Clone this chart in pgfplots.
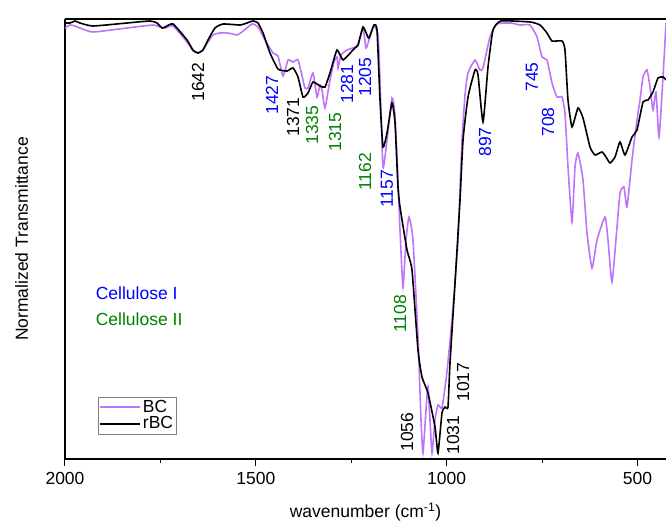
\documentclass[border=0pt]{standalone}
\usepackage{pgfplots}
\pgfplotsset{compat=1.18}
\usepackage{fontspec}
\setmainfont{Liberation Sans}
\definecolor{bcviolet}{RGB}{190,115,250}
\definecolor{cellI}{RGB}{0,0,255}
\definecolor{cellII}{RGB}{0,128,0}

\begin{document}
\fontsize{17.5}{20}\selectfont
\begin{tikzpicture}
\begin{axis}[
    scale only axis,
    width=601pt, height=440pt,
    x dir=reverse,
    xmin=425.1, xmax=2000,
    ymin=0, ymax=440,
    axis lines*=left,
    axis line style={line width=1.1pt},
    xtick={2000,1500,1000,500},
    minor xtick={1750,1250,750},
    ytick=\empty,
    tick align=outside,
    major tick length=7pt,
    minor tick length=4pt,
    every tick/.style={black, line width=1pt},
    /pgf/number format/assume math mode=true,
    /pgf/number format/set thousands separator={},
    xticklabel style={font=\fontsize{17.5}{20}\selectfont},
    xlabel={wavenumber (cm\textsuperscript{-1})},
    xlabel style={at={(axis description cs:0.5,-0.1205)}, anchor=center},
    ylabel={Normalized Transmittance},
    ylabel style={at={(axis description cs:-0.072,0.5)}, anchor=center},
    legend style={at={(rel axis cs:0.055,0.055)}, anchor=south west,
        draw=gray, line width=0.6pt, inner sep=1pt, row sep=-2pt,
        font=\fontsize{17.5}{20}\selectfont},
    legend cell align={left},
    legend image code/.code={\draw[#1] (0pt,0pt) -- (40pt,0pt);},
    every axis plot/.append style={smooth, tension=0.3, line width=1.6pt},
]
% BC
\addplot[bcviolet] coordinates {
(2000,431) (1986.9,434) (1973.8,433) (1960.7,431) (1926.6,427) (1837.5,431)
(1769.4,434) (1751.0,432) (1737.9,431) (1716.9,433) (1680.3,417) (1664.6,408)
(1651.5,406) (1638.4,409) (1625.3,417) (1612.2,424) (1593.8,426) (1575.5,426)
(1559.8,425) (1549.3,424) (1536.2,427) (1509.9,435) (1494.2,432) (1475.9,419)
(1454.9,406) (1441.8,403) (1428.7,383) (1415.5,399) (1402.5,397) (1389.4,399)
(1376.3,379) (1371.1,371) (1363.2,371) (1350.1,386) (1339.6,362) (1331.8,374)
(1326.5,369) (1318.7,351) (1305.6,379) (1295.1,397) (1287.2,402) (1284.6,391)
(1276.7,404) (1261.0,409) (1245.3,411) (1232.2,414) (1219.1,431) (1211.3,411)
(1203.4,419) (1190.3,433) (1179.8,424) (1174.5,379) (1166.7,292) (1156.2,319)
(1143.1,361) (1135.2,344) (1127.4,279) (1122.1,229) (1114.3,172) (1106.4,219)
(1098.5,242) (1088.1,219) (1075.0,122) (1067.1,39) (1061.9,6) (1054.0,49)
(1048.8,72) (1043.5,39) (1038.3,6) (1030.4,39) (1022.6,54) (1012.1,51)
(1001.6,79) (996.4,97) (985.9,139) (978.0,176) (970.1,219) (964.9,269)
(959.6,319) (951.8,364) (943.9,386) (925.6,399) (912.5,389) (904.6,391)
(886.3,422) (867.9,435) (831.2,436) (807.7,434) (781.5,434) (763.1,422)
(750.0,402) (736.9,399) (723.8,376) (710.7,362) (697.6,362) (689.8,346)
(681.9,292) (671.4,237) (663.6,292) (655.7,306) (642.6,279) (632.1,226)
(619.0,191) (605.9,219) (584.9,242) (577.1,219) (566.6,177) (553.5,232)
(545.6,266) (535.1,272) (527.3,252) (514.2,299) (501.1,339) (493.2,359)
(485.3,382) (474.9,389) (467.0,372) (459.2,349) (451.3,367) (443.4,322)
(432.9,382) (425.1,436)
};
\addlegendentry{BC}
% rBC
\addplot[black] coordinates {
(2000,436) (1986.9,436) (1973.8,438) (1960.7,436) (1926.6,433) (1837.5,436)
(1777.3,438) (1758.9,436) (1745.8,431) (1737.9,432) (1716.9,435) (1680.3,419)
(1664.6,409) (1651.5,406) (1638.4,409) (1625.3,419) (1607.0,431) (1585.8,435)
(1541.4,434) (1523.1,436) (1507.3,438) (1494.2,436) (1481.1,426) (1462.8,406)
(1441.8,390) (1418.2,388) (1402.5,391) (1389.4,382) (1376.3,362) (1363.2,366)
(1350.1,377) (1331.8,373) (1318.7,372) (1305.6,386) (1287.2,409) (1271.5,399)
(1245.3,409) (1240.1,411) (1232.2,414) (1219.1,432) (1208.6,424) (1203.4,421)
(1190.3,434) (1182.4,429) (1174.5,359) (1166.7,312) (1156.2,326) (1143.1,356)
(1135.2,336) (1127.4,272) (1122.1,252) (1103.8,209) (1090.7,189) (1075.0,109)
(1064.5,82) (1048.8,66) (1030.4,32) (1022.6,6) (1012.1,46) (1004.2,52)
(996.4,52) (991.1,96) (978.0,176) (964.9,259) (957.0,319) (943.9,362)
(925.6,389) (917.7,384) (904.6,337) (891.5,392) (878.4,429) (857.4,438)
(781.5,437) (755.3,434) (736.9,426) (723.8,418) (697.6,418) (689.8,409)
(681.9,359) (671.4,332) (655.7,351) (642.6,341) (624.2,312) (611.1,304)
(592.8,307) (582.3,302) (571.8,296) (558.7,302) (545.6,317) (532.5,304)
(514.2,322) (501.1,329) (485.3,357) (472.2,359) (459.2,367) (446.1,381)
(432.9,382) (425.1,379)
};
\addlegendentry{rBC}

\draw[line width=1.1pt] (rel axis cs:0,1) -- (rel axis cs:1,1);
\coordinate (bl) at (rel axis cs:0,0);
\coordinate (tr) at (rel axis cs:1,1);

% peak labels
\begin{scope}[every node/.style={rotate=90, inner sep=0pt}]
\node[black]  at (axis cs:1651.5,377) {1642};
\node[cellI]  at (axis cs:1457.6,364) {1427};
\node[black]  at (axis cs:1402.5,342) {1371};
\node[cellII] at (axis cs:1352.7,334) {1335};
\node[cellII] at (axis cs:1292.5,327) {1315};
\node[cellI]  at (axis cs:1261.0,375) {1281};
\node[cellI]  at (axis cs:1213.9,382) {1205};
\node[cellII] at (axis cs:1213.9,287) {1162};
\node[cellI]  at (axis cs:1156.2,270) {1157};
\node[cellII] at (axis cs:1122.1,145) {1108};
\node[black]  at (axis cs:1103.8,27) {1056};
\node[black]  at (axis cs:983.2,24) {1031};
\node[black]  at (axis cs:957.0,77) {1017};
\node[cellI]  at (axis cs:899.4,317) {897};
\node[cellI]  at (axis cs:776.2,382) {745};
\node[cellI]  at (axis cs:734.3,337) {708};
\end{scope}
\node[cellI, anchor=west, inner sep=0pt] at (rel axis cs:0.051,0.377) {Cellulose I};
\node[cellII, anchor=west, inner sep=0pt] at (rel axis cs:0.051,0.318) {Cellulose II};
\end{axis}
\pgfresetboundingbox
\path ([xshift=-65pt,yshift=-66pt]bl) rectangle ([yshift=19pt]tr);
\end{tikzpicture}
\end{document}
